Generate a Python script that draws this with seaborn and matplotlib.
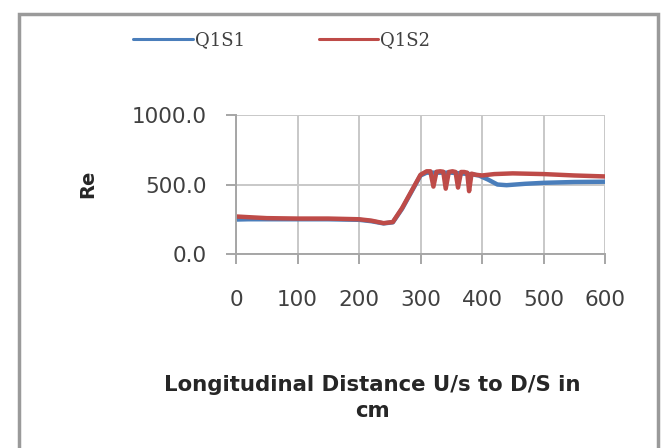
import numpy as np
import pandas as pd
import matplotlib
matplotlib.use("Agg")
import matplotlib.pyplot as plt
import seaborn as sns
from matplotlib.patches import Rectangle
from matplotlib.lines import Line2D

# ---- data ----
x_q1s1 = [0, 20, 50, 100, 150, 200, 220, 240, 255, 270, 285, 300, 310, 330, 350, 380,
          395, 410, 425, 440, 470, 500, 550, 600]
y_q1s1 = [248, 250, 250, 250, 250, 246, 236, 220, 228, 325, 445, 565, 585, 585, 585, 575,
          565, 535, 500, 495, 505, 512, 518, 520]

x_q1s2 = [0, 20, 50, 100, 150, 200, 220, 240, 255, 270, 285, 300, 310, 316, 321, 326,
          332, 337, 341, 346, 352, 357, 361, 366, 371, 376, 379, 383, 390, 400, 420,
          450, 500, 550, 600]
y_q1s2 = [270, 265, 258, 255, 255, 250, 240, 222, 230, 330, 450, 570, 595, 595, 485, 592,
          595, 592, 470, 590, 595, 590, 478, 590, 590, 585, 452, 578, 570, 565, 575,
          580, 575, 565, 558]

series_names = ["Q1S1", "Q1S2"]
x_ticks = [0, 100, 200, 300, 400, 500, 600]
y_ticks = [0, 500, 1000]
y_tick_labels = ["0.0", "500.0", "1000.0"]
x_label = "Longitudinal Distance U/s to D/S in\ncm"
y_label = "Re"

df = pd.concat([
    pd.DataFrame({"x": x_q1s1, "y": y_q1s1, "series": series_names[0]}),
    pd.DataFrame({"x": x_q1s2, "y": y_q1s2, "series": series_names[1]}),
], ignore_index=True)

sns.set_theme(style="white")
plt.rcParams["font.family"] = ["DejaVu Sans"]

W, H = 661, 448
fig = plt.figure(figsize=(W / 100, H / 100), dpi=100)
fig.patch.set_facecolor("white")

def fx(px):
    return px / W

def fy(py):
    return 1 - py / H

left, right, top, bottom = 236, 605, 115, 254
ax = fig.add_axes([fx(left), fy(bottom), fx(right) - fx(left), fy(top) - fy(bottom)])

palette = {"Q1S1": "#4A7EBB", "Q1S2": "#BE4B48"}
sns.lineplot(data=df, x="x", y="y", hue="series", palette=palette, estimator=None,
             sort=False, linewidth=3.2, ax=ax, legend=False)

ax.set_xlim(0, 600)
ax.set_ylim(0, 1000)
ax.set_xticks(x_ticks)
ax.set_yticks(y_ticks)
ax.set_yticklabels(y_tick_labels)
ax.set_xlabel("")
ax.set_ylabel("")

grid_c = "#C8C8C8"
ax.grid(True, color=grid_c, linewidth=1.4)
ax.set_axisbelow(True)
for s in ["top", "right"]:
    ax.spines[s].set_visible(False)
for s in ["left", "bottom"]:
    ax.spines[s].set_color("#A6A6A6")
    ax.spines[s].set_linewidth(1.4)
ax.tick_params(axis="both", which="major", direction="out", length=7, width=1.4,
               color="#A6A6A6", labelsize=15.5, labelcolor="#404040")
ax.tick_params(axis="x", pad=19, bottom=True)
ax.tick_params(axis="y", pad=14, left=True)

# axis titles
fig.text(fx(372), fy(398), x_label, ha="center", va="center", fontsize=15.3,
         fontweight="bold", color="#262626", linespacing=1.4)
fig.text(fx(88), fy(184), y_label, ha="center", va="center", rotation=90,
         fontsize=14, fontweight="bold", color="#262626")

# legend
handles = [Line2D([], [], color=palette[n], linewidth=2.2) for n in series_names]
fig.legend(handles, series_names, loc="center left", bbox_to_anchor=(fx(117), fy(40)),
           ncol=2, frameon=False, handlelength=3.3, handletextpad=0.1,
           columnspacing=4.1, prop={"family": "DejaVu Serif", "size": 13},
           labelcolor="#404040")

# outer frame
fig.patches.append(Rectangle((fx(19), fy(470)), fx(658) - fx(19), fy(14) - fy(470),
                             transform=fig.transFigure, fill=False,
                             edgecolor="#9A9A9A", linewidth=2.5))

fig.savefig("out.png", dpi=100, facecolor="white")
